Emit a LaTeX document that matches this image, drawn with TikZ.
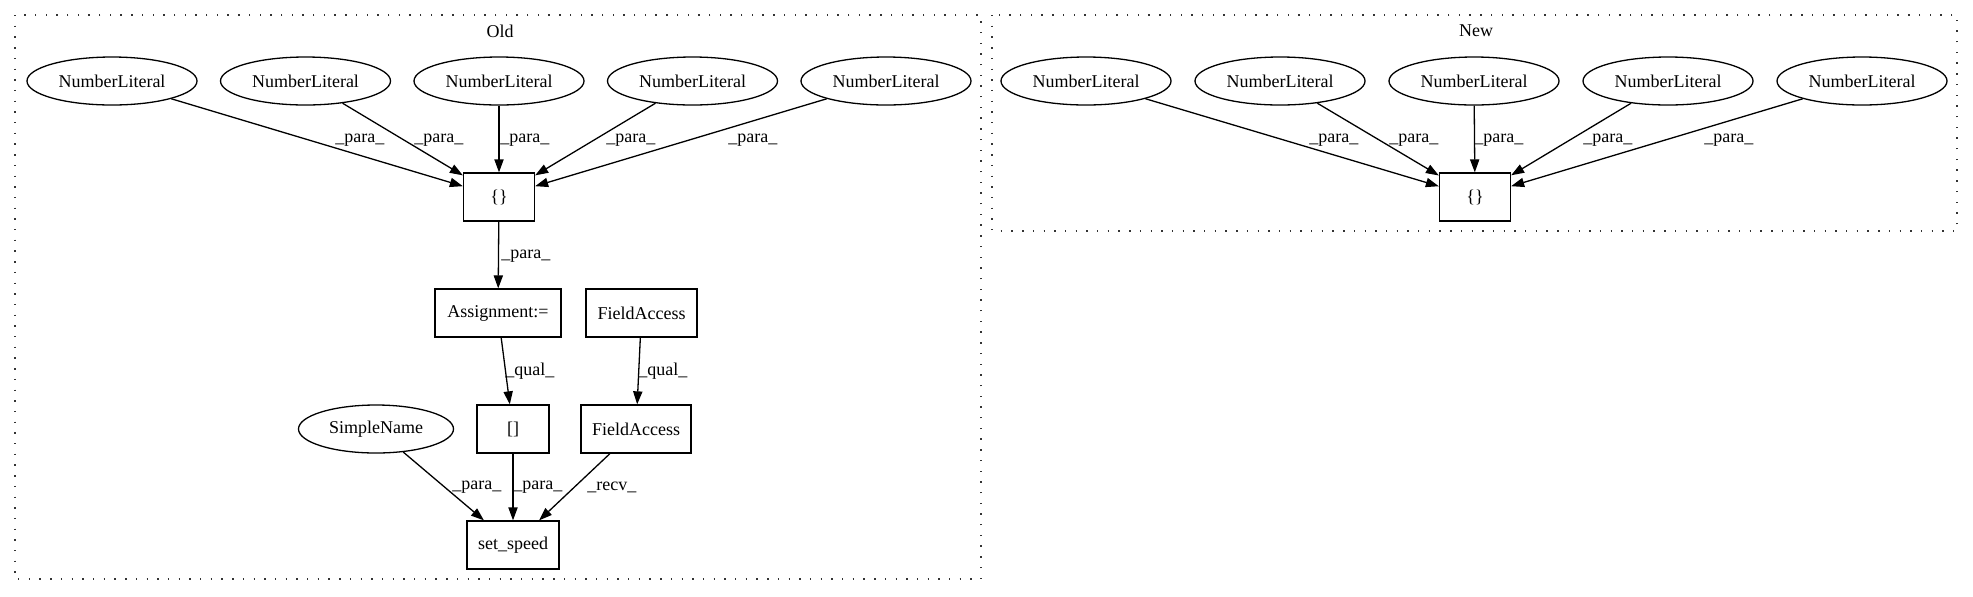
\documentclass[tikz,border=0pt]{standalone}
\usepackage{fontspec}
\setmainfont{Liberation Serif}
\usetikzlibrary{shapes.geometric,arrows.meta}

\begin{document}
\begin{tikzpicture}
		[x={(0.5pt,0)}, y={(0,-0.5pt)},
		font=\fontsize{9pt}{10pt}\selectfont,
		lit/.style ={ellipse, draw=black, line width=0.65pt, inner sep=0pt, minimum width=85pt, minimum height=24pt},
		block/.style ={rectangle, draw=black, line width=0.65pt, inner sep=0pt, minimum height=24pt},
		line/.style ={draw, line width=0.65pt, -{Triangle[length=6.5pt,width=4.6pt]}},
		cluster/.style ={draw=black!80, line width=0.6pt, dash pattern=on 0.7pt off 4.65pt},
		lab/.style = {anchor=west, inner sep=0pt},
		]
		\useasboundingbox (0,0) rectangle (1973,596);

		% clusters
		\draw[cluster] (15,15) rectangle (981,579);
		\draw[cluster] (992,15) rectangle (1957,231);
		\draw (500,31) node (TOld) {Old};
		\draw (1476,31) node (TNew) {New};

		% old
		\draw (112,81) node[lit] (O1) {NumberLiteral};
		\draw (305.5,81) node[lit] (O2) {NumberLiteral};
		\draw (499,81) node[lit] (O3) {NumberLiteral};
		\draw (692.5,81) node[lit] (O4) {NumberLiteral};
		\draw (886,81) node[lit] (O5) {NumberLiteral};
		\draw (499,197) node[block, minimum width=35.5pt] (OB) {\{\}};
		\draw (498,313) node[block, minimum width=63pt] (AS) {Assignment:=};
		\draw (641.5,313) node[block, minimum width=55.5pt] (FA1) {FieldAccess};
		\draw (376,429) node[lit, minimum width=77.5pt] (SN) {SimpleName};
		\draw (513,429) node[block, minimum width=36pt] (AR) {[]};
		\draw (636,429) node[block, minimum width=55pt] (FA2) {FieldAccess};
		\draw (513,545) node[block, minimum width=46pt] (SP) {set\_speed};

		% new
		\draw (1086,81) node[lit] (N1) {NumberLiteral};
		\draw (1280,81) node[lit] (N2) {NumberLiteral};
		\draw (1474,81) node[lit] (N3) {NumberLiteral};
		\draw (1668,81) node[lit] (N4) {NumberLiteral};
		\draw (1862,81) node[lit] (N5) {NumberLiteral};
		\draw (1475,197) node[block, minimum width=35.5pt] (NB) {\{\}};

		\path[line]
		(O1) edge (OB)
		(O2) edge (OB)
		(O3) edge (OB)
		(O4) edge (OB)
		(O5) edge (OB)
		(OB) edge (AS)
		(AS) edge (AR)
		(FA1) edge (FA2)
		(SN) edge (SP)
		(AR) edge (SP)
		(FA2) edge (SP)
		(N1) edge (NB)
		(N2) edge (NB)
		(N3) edge (NB)
		(N4) edge (NB)
		(N5) edge (NB);

		% edge labels
		\foreach \x in {335,414,500,606,728,1309,1389,1474,1583,1704}
			\draw (\x,140) node[lab] {\_para\_};
		\draw (501,256) node[lab] {\_para\_};
		\draw (505,371) node[lab] {\_qual\_};
		\draw (638,371) node[lab] {\_qual\_};
		\draw (452,487) node[lab] {\_para\_};
		\draw (513,487) node[lab] {\_para\_};
		\draw (587,487) node[lab] {\_recv\_};
	\end{tikzpicture}
\end{document}
